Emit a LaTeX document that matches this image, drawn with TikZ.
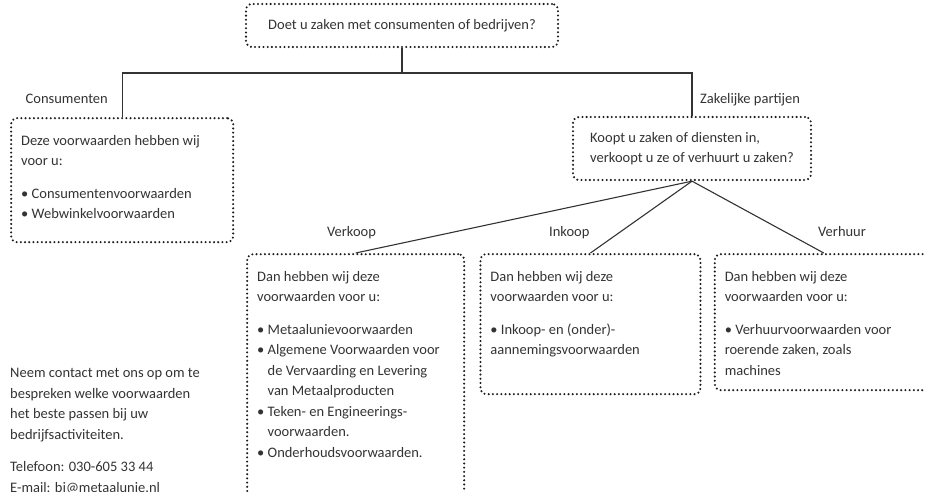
\documentclass[tikz,border=0pt]{standalone}
\usepackage{fontspec}
\setmainfont{Carlito}
\usetikzlibrary{positioning}
\definecolor{ink}{HTML}{333333}
\definecolor{stip}{HTML}{1C1C1C}
\newcommand{\vak}[3]{\parbox[t][#2][t]{#1}{\raggedright\rule{0pt}{27pt}#3}}
\newcommand{\opsom}{\textbullet\ }
\newcommand{\inspring}{\hspace*{0pt}\phantom{\textbullet\ }}
\tikzset{
  every node/.style={font=\fontsize{14.5}{20.5}\selectfont,text=ink},
  vakje/.style={draw=stip,line width=2.3pt,dash pattern=on 0pt off 4.2pt,line cap=round,rounded corners=6pt,inner xsep=10pt,inner ysep=0pt},
  keuze/.style={vakje,anchor=north west},
  vraagbox/.style={vakje,align=left,inner xsep=11pt},
  tak/.style={draw=ink,line width=1.1pt},
  kop/.style={inner sep=0pt,anchor=base west},
}

\begin{document}
\begin{tikzpicture}[x=1pt,y=-1pt]
\useasboundingbox (0,0) rectangle (925,491);
\clip (0,0) rectangle (925,491);

\node[vraagbox,minimum width=312pt,minimum height=43pt] (vraag) at (402,25.5) {Doet u zaken met consumenten of bedrijven?};
\coordinate (knoop) at (402,73);

\node[keuze] (consument) at (10,117) {\vak{202pt}{124pt}{Deze voorwaarden hebben wij\\voor u:\\[12pt]\opsom Consumentenvoorwaarden\\\opsom Webwinkelvoorwaarden}};
\node[vraagbox,minimum width=238pt,minimum height=63pt] (zakelijk) at (692,148.5) {Koopt u zaken of diensten in,\\verkoopt u ze of verhuurt u zaken?};

\node[keuze] (verkoop) at (246,253) {\vak{197pt}{260pt}{Dan hebben wij deze\\voorwaarden voor u:\\[12pt]\opsom Metaalunievoorwaarden\\\opsom Algemene Voorwaarden voor\\\inspring de Vervaarding en Levering\\\inspring van Metaalproducten\\\opsom Teken- en Engineerings-\\\inspring voorwaarden.\\\opsom Onderhoudsvoorwaarden.}};
\node[keuze,right=14pt of verkoop.north east,anchor=north west] (inkoop) {\vak{200pt}{140pt}{Dan hebben wij deze\\voorwaarden voor u:\\[12pt]\opsom Inkoop- en (onder)-\\aannemingsvoorwaarden}};
\node[keuze,right=12pt of inkoop.north east,anchor=north west] (verhuur) {\vak{198pt}{136pt}{Dan hebben wij deze\\voorwaarden voor u:\\[12pt]\opsom Verhuurvoorwaarden voor\\roerende zaken, zoals\\machines}};

% labels bij de takken
\node[kop,anchor=base east] (lconsument) at (108,103) {Consumenten};
\node[kop] (lzakelijk) at (700,103) {Zakelijke partijen};
\node[kop] (lverkoop) at (327,236) {Verkoop};
\node[kop] (linkoop) at (549,236) {Inkoop};
\node[kop] (lverhuur) at (818,236) {Verhuur};

\node[inner sep=0pt,anchor=north west,align=left] (contact) at (10,368) {Neem contact met ons op om te\\bespreken welke voorwaarden\\het beste passen bij uw\\bedrijfsactiviteiten.\\[12pt]Telefoon: 030-605 33 44\\E-mail: bj@metaalunie.nl};

\draw[tak] (vraag.south) -- (knoop);
\draw[tak] (consument.north) |- (knoop) -| (zakelijk.north);
\foreach \doel in {verkoop,inkoop,verhuur}
  \draw[tak] (zakelijk.south) -- (\doel.north);

\end{tikzpicture}
\end{document}
